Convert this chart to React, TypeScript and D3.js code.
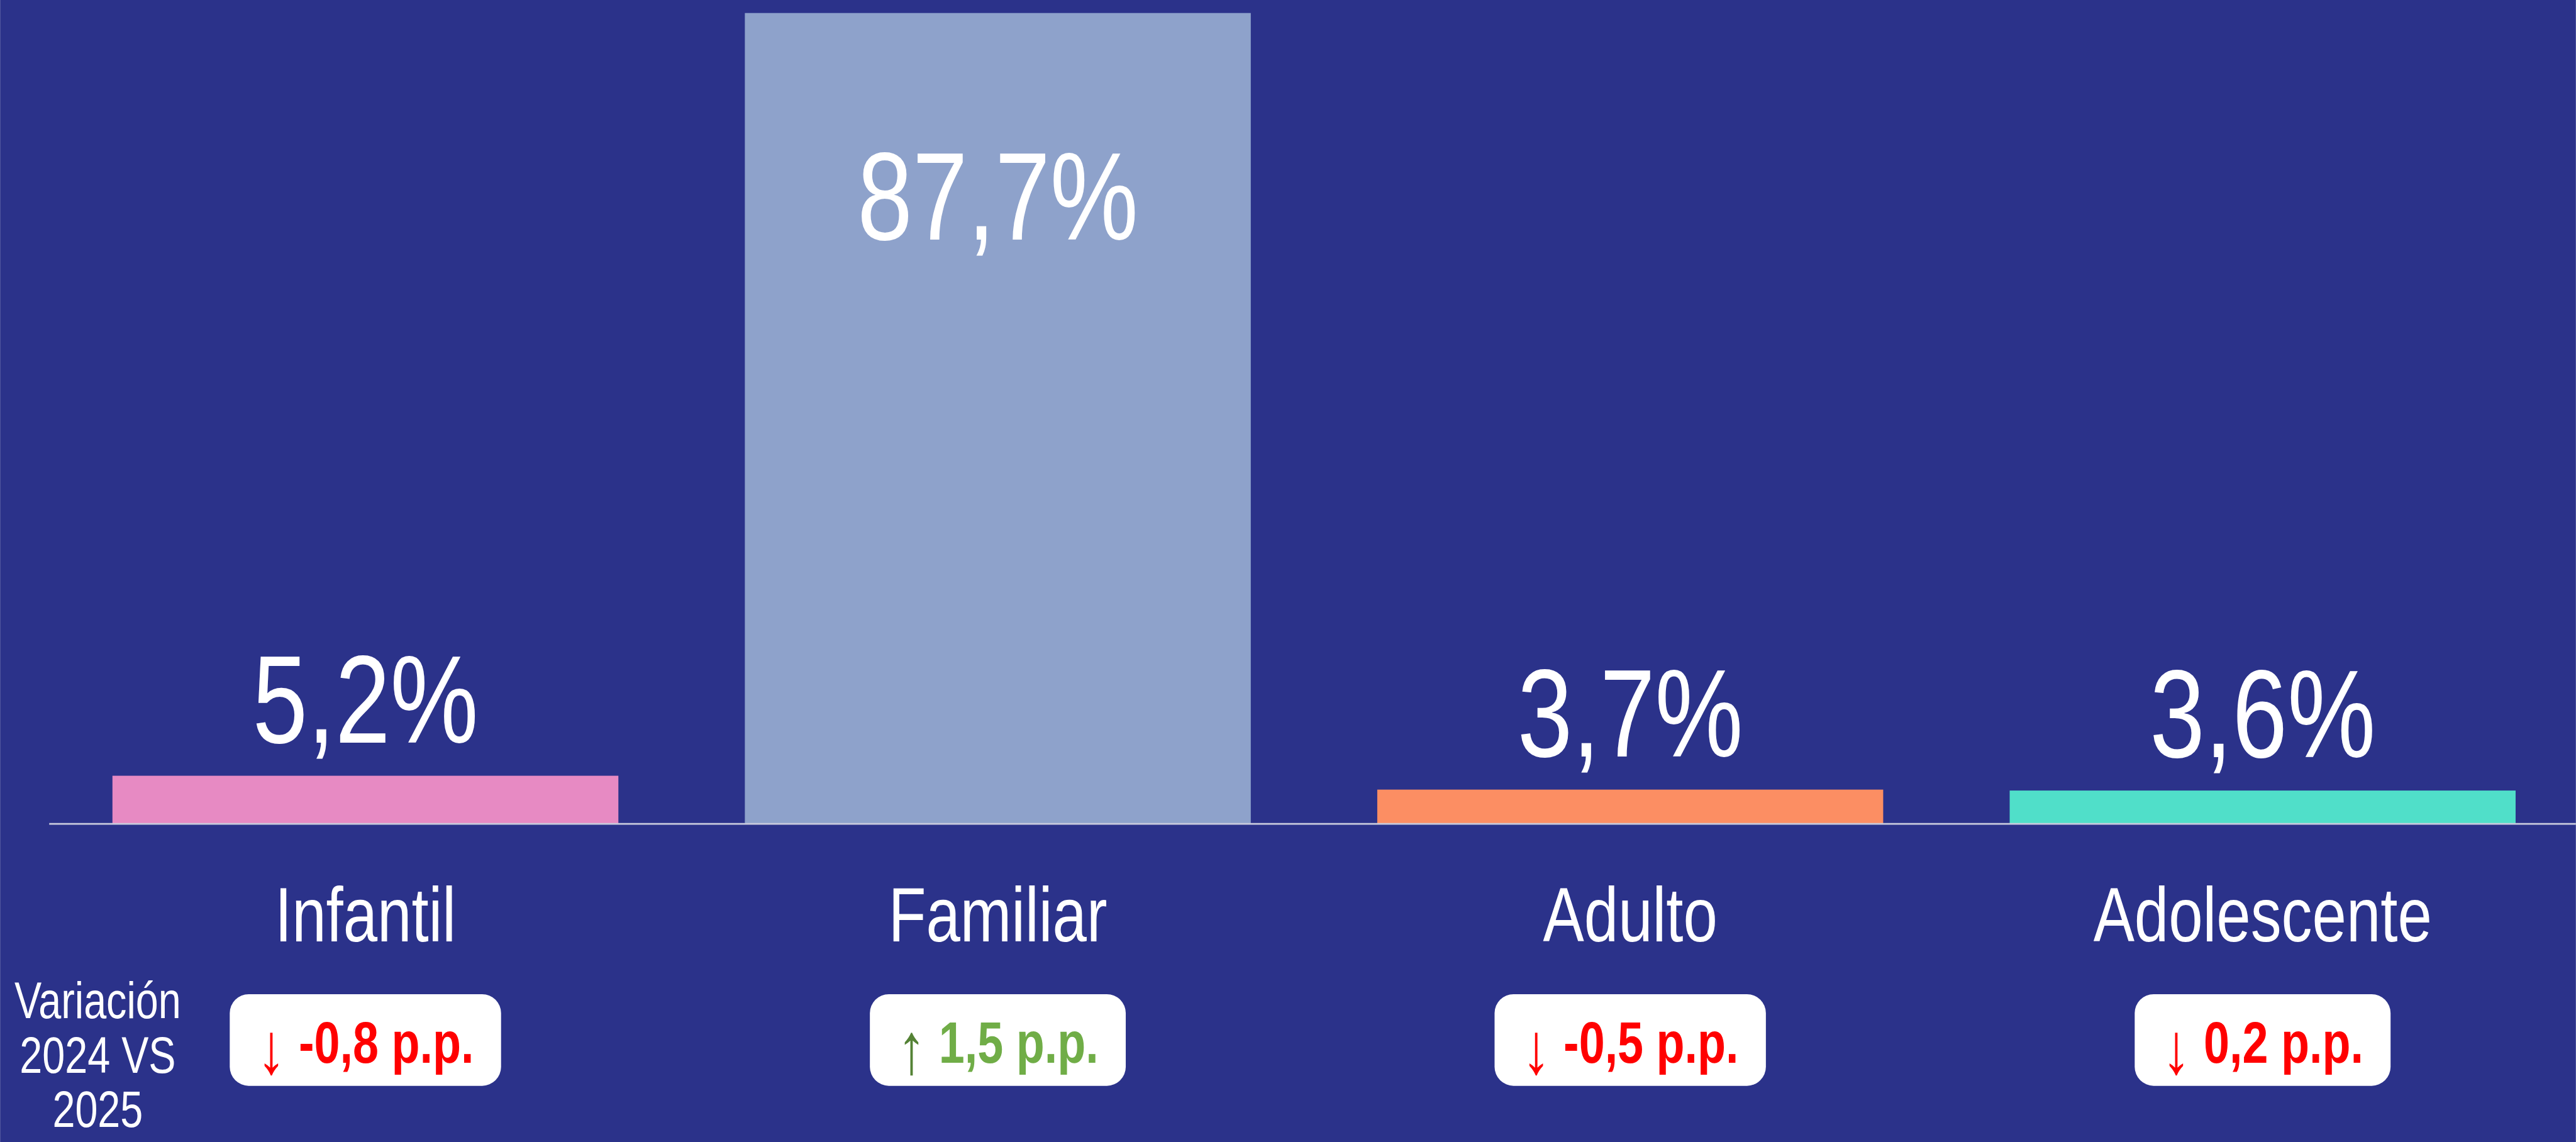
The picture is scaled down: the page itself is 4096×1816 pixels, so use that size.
import { useLayoutEffect, useRef, useState } from 'react';
import * as d3 from 'd3';

// drawn in the reference's own pixel space, the viewBox shrinks it to the window
const W = 4355;
const H = 1931;
const BASE_Y = 1393;
const NARROW = 0.8; // the original uses a narrow Arial
const FONT = "'Liberation Sans', Arial, sans-serif";

const categories = ['Infantil', 'Familiar', 'Adulto', 'Adolescente'];
const shares = [5.2, 87.7, 3.7, 3.6];
const shareLabels = ['5,2%', '87,7%', '3,7%', '3,6%'];
const changeLabels = ['-0,8 p.p.', '1,5 p.p.', '-0,5 p.p.', '0,2 p.p.'];
const changeArrows = ['↓', '↑', '↓', '↓'];
const barColors = ['#E78AC3', '#8EA2CB', '#FC8E63', '#50DFC9'];
const sideLabel = ['Variación', '2024 VS', '2025'];

const arrowColor = (a: string) => (a === '↑' ? '#548235' : '#FF0000');
const textColor = (a: string) => (a === '↑' ? '#70AD47' : '#FF0000');

export default function App() {
    const textRefs = useRef<(SVGTextElement | null)[]>([]);
    const [boxWidths, setBoxWidths] = useState<number[]>(changeLabels.map(() => 430));

    const x = d3.scaleBand().domain(categories).range([83, 4360]).paddingInner(0.2).paddingOuter(0.1);
    const y = d3.scaleLinear().domain([0, 87.7]).range([BASE_Y, 22]);

    useLayoutEffect(() => {
        setBoxWidths(textRefs.current.map((t) => (t ? t.getComputedTextLength() * NARROW + 92 : 430)));
    }, []);

    return (
        <svg
            width={4096}
            height={1816}
            viewBox={`0 0 ${W} ${H}`}
            style={{ position: 'absolute', left: 0, top: 0, display: 'block' }}
            fontFamily={FONT}
        >
            <rect width={W} height={H} fill="#2B328A" />

            {categories.map((c, i) => {
                const cx = x(c)! + x.bandwidth() / 2;
                const top = y(shares[i]);
                // the tall bar keeps its label inside, the short ones above
                const labelY = shares[i] > 50 ? top + 383 : top - 56;
                return (
                    <g key={c}>
                        <rect x={x(c)} width={x.bandwidth()} y={top} height={BASE_Y - top} fill={barColors[i]} />
                        <text
                            transform={`translate(${cx},${labelY}) scale(0.79,1)`}
                            textAnchor="middle"
                            fontSize={212}
                            fill="#FFFFFF"
                        >
                            {shareLabels[i]}
                        </text>
                        <text
                            transform={`translate(${cx},1592) scale(${NARROW},1)`}
                            textAnchor="middle"
                            fontSize={130}
                            fill="#FFFFFF"
                        >
                            {c}
                        </text>
                        <rect
                            x={cx - boxWidths[i] / 2}
                            y={1681}
                            width={boxWidths[i]}
                            height={155}
                            rx={32}
                            fill="#FFFFFF"
                        />
                        <text
                            ref={(el) => {
                                textRefs.current[i] = el;
                            }}
                            transform={`translate(${cx},1797) scale(${NARROW},1)`}
                            textAnchor="middle"
                            fontSize={98}
                            fontWeight={700}
                        >
                            <tspan fontWeight={400} fontSize={122} dy={18} fill={arrowColor(changeArrows[i])}>
                                {changeArrows[i]}
                            </tspan>
                            <tspan dy={-18} fill={textColor(changeArrows[i])}>
                                {' ' + changeLabels[i]}
                            </tspan>
                        </text>
                    </g>
                );
            })}

            <line x1={83} x2={W} y1={BASE_Y} y2={BASE_Y} stroke="#C9CBDD" strokeWidth={3} />

            {sideLabel.map((s, i) => (
                <text
                    key={s}
                    transform={`translate(165,${1722 + i * 92}) scale(${NARROW},1)`}
                    textAnchor="middle"
                    fontSize={86}
                    fill="#FFFFFF"
                >
                    {s}
                </text>
            ))}
        </svg>
    );
}
